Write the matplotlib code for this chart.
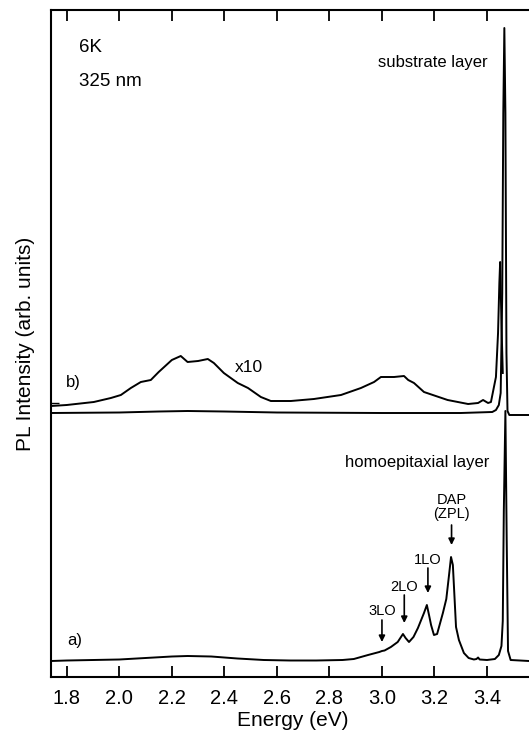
import numpy as np
import matplotlib.pyplot as plt

plt.rcParams['font.family'] = ['Liberation Sans', 'DejaVu Sans']

# a) homoepitaxial layer (arb. units above its baseline)
e_a = [1.74, 1.80, 1.90, 2.00, 2.10, 2.20, 2.26, 2.35, 2.45, 2.55, 2.65, 2.75, 2.85,
       2.893, 2.947, 2.99, 3.00, 3.01, 3.034, 3.06, 3.08, 3.09, 3.103, 3.12, 3.137,
       3.16, 3.171, 3.18, 3.187, 3.198, 3.21, 3.232, 3.245, 3.255, 3.263, 3.27, 3.282,
       3.293, 3.312, 3.33, 3.35, 3.36, 3.366, 3.372, 3.40, 3.43, 3.445, 3.455, 3.46,
       3.464, 3.47, 3.475, 3.48, 3.49, 3.56]
i_a = [0, 0.5, 1, 1.5, 3, 4.5, 5, 4.5, 2.5, 1, 0.5, 0.5, 1,
       2, 6, 9, 10, 10.5, 14, 19, 27, 23, 19, 24, 33,
       48, 56, 45, 36, 26, 27, 48, 62, 85, 104, 96, 34,
       21, 8, 3, 1.5, 2, 3.5, 1.5, 1, 2, 6, 15, 40,
       150, 250, 120, 10, 1, 0]

# b) substrate layer, 1x trace
e_b = [1.74, 2.00, 2.15, 2.26, 2.40, 2.60, 3.00, 3.30, 3.42, 3.434, 3.445, 3.452,
       3.458, 3.462, 3.466, 3.47, 3.474, 3.478, 3.485, 3.56]
i_b = [0, 0.5, 1.5, 2, 1.5, 0.5, 0, 0, 1, 3, 8, 20,
       120, 300, 385, 300, 60, 2, -2, -2]

# b) substrate layer, x10 trace
e_b10 = [1.74, 1.80, 1.903, 1.968, 2.006, 2.044, 2.082, 2.12, 2.15, 2.20, 2.234, 2.26,
         2.30, 2.337, 2.36, 2.398, 2.451, 2.49, 2.539, 2.577, 2.653, 2.741, 2.844,
         2.92, 2.97, 2.996, 3.046, 3.084, 3.10, 3.122, 3.16, 3.25, 3.328, 3.366,
         3.385, 3.404, 3.415, 3.434, 3.442, 3.447, 3.45, 3.455, 3.46]
i_b10 = [7, 8, 11, 15, 18, 25, 31, 33, 41, 53, 57, 51,
         52, 54, 50, 40, 30, 25, 16, 12, 12, 14, 18,
         25, 31, 36, 36, 37, 33, 30, 21, 13, 9, 10,
         13, 10, 11, 36, 80, 130, 151, 90, 40]

offset_b = 248
x10_tick = 258

# replica labels: (name, energy, arrow tip, arrow tail, label height)
replicas = [('3LO', 3.0, 19, 41, 50),
            ('2LO', 3.085, 38, 66, 74),
            ('1LO', 3.175, 68, 93, 101),
            ('DAP\n(ZPL)', 3.265, 116, 136, 154)]

fig = plt.figure(figsize=(5.29, 7.34), dpi=100)
ax = fig.add_axes([51/529, 1 - 677/734, 1 - 51/529 + 0.01, (677 - 10)/734])

ax.plot(e_a, i_a, color='black', lw=1.4)
ax.plot(e_b, np.array(i_b) + offset_b, color='black', lw=1.4)
ax.plot(e_b10, np.array(i_b10) + offset_b, color='black', lw=1.4)

ax.set_xlim(1.74, 3.58)
ax.set_ylim(-16, 651)
ax.set_xticks(np.arange(1.8, 3.41, 0.2))
ax.set_xticklabels(['1.8', '2.0', '2.2', '2.4', '2.6', '2.8', '3.0', '3.2', '3.4'])
ax.set_yticks([x10_tick])
ax.set_yticklabels([])
ax.tick_params(axis='x', direction='in', length=8, width=1.3, top=True, labelsize=14.5, pad=9)
ax.tick_params(axis='y', direction='in', length=6, width=1.0)
ax.spines['right'].set_visible(False)
for s in ['left', 'top', 'bottom']:
    ax.spines[s].set_linewidth(1.5)

ax.set_xlabel('Energy (eV)', fontsize=15, labelpad=2)
ax.set_ylabel('PL Intensity (arb. units)', fontsize=15)
ax.yaxis.set_label_coords(-0.034, 0.5)

ax.text(1.846, 613, '6K', fontsize=13.5, va='center')
ax.text(1.846, 579, '325 nm', fontsize=13.5, va='center')
ax.text(3.404, 599, 'substrate layer', fontsize=12, ha='right', va='center')
ax.text(2.44, 294, 'x10', fontsize=12.5, va='center')
ax.text(1.797, 278, 'b)', fontsize=12, va='center')
ax.text(3.41, 199, 'homoepitaxial layer', fontsize=12, ha='right', va='center')
ax.text(1.8, 21, 'a)', fontsize=12, va='center')

# phonon replica arrows
arrow = dict(arrowstyle='-|>', color='black', lw=1.2, mutation_scale=9,
             shrinkA=0, shrinkB=0)
for name, e, tip, tail, ylab in replicas:
    ax.annotate('', xy=(e, tip), xytext=(e, tail), arrowprops=arrow)
    ax.text(e, ylab, name, ha='center', va='center', fontsize=10.5, linespacing=1.0)

fig.savefig('out.png', dpi=100)
